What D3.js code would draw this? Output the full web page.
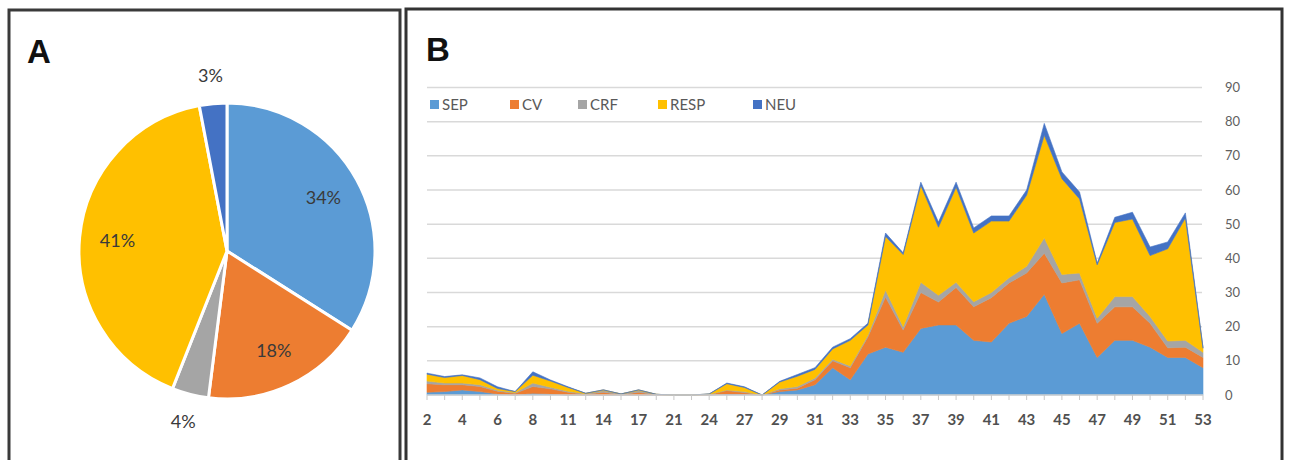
<!DOCTYPE html>
<meta charset="utf-8">
<style>
    body { margin: 0; background: #fff; }
    text { font-family: Lato, "Open Sans", sans-serif; }
</style>
<svg width="1290" height="460"></svg>
<script src="https://d3js.org/d3.v7.min.js"></script>
<script>

    // pie shares (panel A)
    var pieKeys = ["SEP", "CV", "CRF", "RESP", "NEU"];
    var pieValues = [34, 18, 4, 41, 3];

    // weeks on the x axis (panel B)
    var weeks = [2, 3, 4, 5, 6, 7, 8, 10, 11, 12, 14, 15, 17, 19, 21, 22, 24, 25, 27, 28,
        29, 30, 31, 32, 33, 34, 35, 36, 37, 38, 39, 40, 41, 42, 43, 44, 45, 46, 47, 48, 49, 50, 51, 52, 53];
    var weekLabels = [2, 4, 6, 8, 11, 14, 17, 21, 24, 27, 29, 31, 33, 35, 37, 39, 41, 43, 45, 47, 49, 51, 53];

    // series values per week
    var SEP = [0.8, 1, 1.5, 1, 0.3, 0, 0.5, 0.3, 0, 0, 0, 0, 0, 0, 0, 0, 0, 0.3, 0.2, 0,
        1, 1.5, 3, 8, 4.5, 12, 14, 12.5, 19.5, 20.5, 20.5, 16, 15.5, 21, 23, 29.5, 18, 21, 11, 16, 16, 14, 11, 11, 8];
    var CV = [2.5, 2, 1.5, 1.5, 0.8, 0.5, 2, 1.5, 0.8, 0.2, 0.8, 0.1, 0.8, 0.1, 0, 0, 0.1, 1, 0.5, 0,
        0.5, 0.5, 1.5, 2, 3.5, 5, 14.7, 6.5, 10.5, 6.7, 11, 9.8, 13, 11.8, 12.7, 12, 14.8, 12.7, 10, 9.8, 9.8, 7, 2.8, 3, 3];
    var CRF = [0.8, 0.5, 0.5, 0.5, 0.3, 0.2, 1, 0.5, 0.3, 0.2, 0.5, 0.2, 0.5, 0.1, 0, 0, 0.1, 0.2, 0.3, 0,
        0.3, 0.5, 0.5, 0.5, 0.5, 0.5, 2, 1, 3, 2, 1.5, 1.5, 1.5, 1.5, 2, 4.5, 2.5, 2, 1.5, 3, 3, 2, 2, 2, 1.5];
    var RESP = [2, 1.6, 2.2, 1.5, 0.5, 0.3, 2.3, 1.8, 1.1, 0.1, 0.2, 0, 0.2, 0, 0, 0, 0.1, 1.8, 1.2, 0,
        2, 3, 2.5, 3, 7.5, 3, 15.7, 21.1, 28.3, 19.9, 27.8, 20.1, 20.9, 16.6, 20.8, 30, 28, 21.7, 15.6, 21.7, 22.7, 17.8, 27, 35.8, 1.2];
    var NEU = [0.3, 0.3, 0.2, 0.5, 0.5, 0, 1, 0.3, 0.2, 0, 0, 0, 0, 0, 0, 0, 0, 0.2, 0.2, 0,
        0.2, 0.5, 0.5, 0.5, 0.5, 0.5, 1, 0.5, 1, 1.5, 1.5, 1.5, 1.5, 1.5, 1.5, 3.5, 2, 2, 0.5, 1.5, 2, 2.5, 2, 1.5, 0.3];

    var yTicks = [0, 10, 20, 30, 40, 50, 60, 70, 80, 90];

    var colors = {SEP: "#5b9bd5", CV: "#ed7d31", CRF: "#a5a5a5", RESP: "#ffc000", NEU: "#4472c4"};
    var series = {SEP: SEP, CV: CV, CRF: CRF, RESP: RESP, NEU: NEU};

    var svg = d3.select("svg");

    // panel frames
    svg.append("rect").attr("x", 9).attr("y", 10).attr("width", 391).attr("height", 470)
        .attr("fill", "none").attr("stroke", "#3a3a3a").attr("stroke-width", 3);
    svg.append("rect").attr("x", 406).attr("y", 9).attr("width", 876).attr("height", 470)
        .attr("fill", "none").attr("stroke", "#333").attr("stroke-width", 3);

    svg.append("text").attr("x", 27).attr("y", 63).text("A")
        .style("font-family", "'Liberation Sans', Arial, sans-serif")
        .style("font-weight", "bold").style("font-size", "33px").attr("fill", "#111");
    svg.append("text").attr("x", 426).attr("y", 61).text("B")
        .style("font-family", "'Liberation Sans', Arial, sans-serif")
        .style("font-weight", "bold").style("font-size", "33px").attr("fill", "#111");

    // ---- panel A: pie ----
    var R = 148;
    var pieG = svg.append("g").attr("transform", "translate(227,251)");
    var pieData = d3.pie().sort(null)(pieValues);
    var arc = d3.arc().innerRadius(0).outerRadius(R);

    pieG.selectAll("path")
        .data(pieData)
        .enter()
        .append("path")
        .attr("d", arc)
        .attr("fill", function (d, i) { return colors[pieKeys[i]]; })
        .attr("stroke", "#fff")
        .attr("stroke-width", 3);

    // small slices get their label outside
    pieG.selectAll("text")
        .data(pieData)
        .enter()
        .append("text")
        .attr("transform", function (d) {
            var r = d.data < 5 ? 176 : 110;
            var c = d3.arc().innerRadius(r).outerRadius(r).centroid(d);
            return "translate(" + c[0] + "," + c[1] + ")";
        })
        .attr("dy", "0.35em")
        .style("text-anchor", "middle")
        .style("font-size", "18px")
        .attr("fill", "#3a3a3a")
        .text(function (d) { return d.data + "%"; });

    // ---- panel B: stacked area ----
    var x = d3.scalePoint().domain(d3.range(weeks.length)).range([427, 1203]);
    var y = d3.scaleLinear().domain([0, 90]).range([395, 87.5]);

    var table = weeks.map(function (w, i) {
        var row = {week: w};
        pieKeys.forEach(function (k) { row[k] = series[k][i]; });
        return row;
    });

    // gridlines
    svg.append("g").selectAll("line")
        .data(yTicks.slice(1))
        .enter()
        .append("line")
        .attr("x1", 427).attr("x2", 1202)
        .attr("y1", function (d) { return y(d); })
        .attr("y2", function (d) { return y(d); })
        .attr("stroke", "#d9d9d9")
        .attr("stroke-width", 1.5);

    var stacked = d3.stack().keys(pieKeys)(table);
    var area = d3.area()
        .x(function (d, i) { return x(i); })
        .y0(function (d) { return y(d[0]); })
        .y1(function (d) { return y(d[1]); });

    svg.append("g").selectAll("path")
        .data(stacked)
        .enter()
        .append("path")
        .attr("d", area)
        .attr("fill", function (d) { return colors[d.key]; })
        .attr("stroke", function (d) { return colors[d.key]; })
        .attr("stroke-width", 0.6);

    // x axis
    var xAxis = svg.append("g").attr("transform", "translate(0," + y(0) + ")");
    xAxis.append("line").attr("x1", 427).attr("x2", 1203)
        .attr("stroke", "#d0d0d0").attr("stroke-width", 1.5);
    xAxis.selectAll(".tick")
        .data(weeks)
        .enter()
        .append("line")
        .attr("x1", function (d, i) { return x(i); })
        .attr("x2", function (d, i) { return x(i); })
        .attr("y1", 0).attr("y2", 5)
        .attr("stroke", "#c8c8c8");
    xAxis.selectAll("text")
        .data(weekLabels)
        .enter()
        .append("text")
        .attr("x", function (d) { return x(weeks.indexOf(d)); })
        .attr("y", 30)
        .style("text-anchor", "middle")
        .style("font-size", "15px")
        .style("font-weight", "bold")
        .attr("fill", "#505050")
        .text(function (d) { return d; });

    // y axis on the right
    svg.append("g").selectAll("text")
        .data(yTicks)
        .enter()
        .append("text")
        .attr("x", 1225)
        .attr("y", function (d) { return y(d); })
        .attr("dy", "0.35em")
        .style("font-size", "13px")
        .attr("fill", "#606060")
        .text(function (d) { return d; });

    // legend
    var legendX = [430, 510, 578, 658, 753];
    var legend = svg.append("g").selectAll("g")
        .data(pieKeys)
        .enter()
        .append("g")
        .attr("transform", function (d, i) { return "translate(" + legendX[i] + ",105)"; });
    legend.append("rect")
        .attr("x", 0).attr("y", -5).attr("width", 9).attr("height", 9)
        .attr("fill", function (d) { return colors[d]; });
    legend.append("text")
        .attr("x", 12).attr("dy", "0.35em")
        .style("font-size", "15px")
        .attr("fill", "#595959")
        .text(function (d) { return d; });

</script>
